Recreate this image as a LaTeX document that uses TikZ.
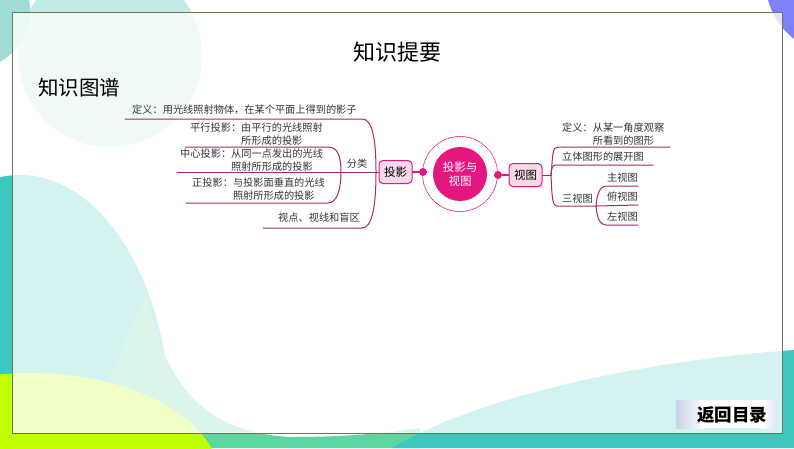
\documentclass[tikz,border=0pt]{standalone}
\usepackage{fontspec}
\newfontfamily\cjk{Noto Sans CJK SC}
\definecolor{tealdeep}{HTML}{3CC8BE}
\definecolor{greenband}{HTML}{5CD6A0}
\definecolor{limeband}{HTML}{BFFF00}
\definecolor{tealpale}{HTML}{C2EBE6}
\definecolor{tealmid}{HTML}{9EDCD5}
\definecolor{violetcap}{HTML}{8080F8}
\definecolor{framegray}{HTML}{6E7558}
\definecolor{mapline}{HTML}{A3286E}
\definecolor{hubpink}{HTML}{E3177F}
\definecolor{boxpink}{HTML}{F8D9E8}
\definecolor{btnblue}{HTML}{C8D2E6}
\begin{document}
\begin{tikzpicture}[x=1pt,y=-1pt,line join=round,line cap=round,font=\cjk,
	maplink/.style={draw=mapline,line width=1pt},
	hublink/.style={draw=hubpink,line width=1.2pt},
	leaf/.style={anchor=west,inner sep=0pt,align=left,text=black!80,
		font=\cjk\fontsize{10.2}{13}\selectfont},
	hubbox/.style={draw=hubpink,fill=boxpink,rounded corners=4pt,line width=1pt,
		minimum width=33pt,minimum height=23pt,inner sep=0pt,
		font=\cjk\fontsize{11.5}{13}\selectfont},
	hubdot/.style={circle,fill=hubpink,inner sep=0pt,minimum size=8pt}]
	\useasboundingbox (0,0) rectangle (794,448);
	% background of the slide
	\begin{scope}
		\clip (0,0) rectangle (794,448);
		\fill[white] (0,0) rectangle (794,448);
		\fill[tealpale] (110,55) circle (92pt);
		\fill[tealmid] (-30,10) circle (60pt);
		\fill[violetcap] (840,-20) circle (74.7pt);
		\fill[tealdeep] (20,420) ellipse (150pt and 245pt);
		\fill[greenband] (147,290) .. controls (162,380) and (200,432) .. (290,437)
			.. controls (340,437) and (380,434) .. (420,428) -- (420,448) -- (90,448)
			.. controls (100,400) and (125,340) .. (147,290) -- cycle;
		\fill[limeband] (30,480) ellipse (190pt and 107pt);
		\fill[tealdeep] (794,350) .. controls (650,360) and (480,395) .. (392,448)
			-- (794,448) -- cycle;
		\fill[white,opacity=0.78] (12,12) rectangle (782,433);
		\draw[framegray,line width=1pt] (12,12) rectangle (782,433);
		\fill[white] (676,400) rectangle (777,428);
		\shade[left color=btnblue,right color=white] (676,400) rectangle (705,428);
		\shade[left color=white,right color=btnblue!60] (762,400) rectangle (777,428);
	\end{scope}
	\node[font=\cjk\fontsize{22}{24}\selectfont] (title) at (397,52) {知识提要};
	\node[font=\cjk\fontsize{20.5}{24}\selectfont,anchor=west,inner sep=0pt] (maptitle) at (38,88) {知识图谱};
	\node[font=\cjk\bfseries\fontsize{17.5}{20}\selectfont] (back) at (732,415) {返回目录};
	% branch points and line ends
	\path
	(376,172) coordinate (Lj)
	(341,172) coordinate (Lk)
	(125,119) coordinate (def1) (362,119) coordinate (def2)
	(263,228) coordinate (vp1) (362,228) coordinate (vp2)
	(185,147) coordinate (par1) (328,147) coordinate (par2)
	(186,203) coordinate (ort1) (328,203) coordinate (ort2)
	(177,172) coordinate (cen1)
	(551,175) coordinate (Rj)
	(558,147) coordinate (vdef1) (670,147) coordinate (vdef2)
	(556,165) coordinate (unf1) (653,165) coordinate (unf2)
	(557,206) coordinate (tri1) (596,206) coordinate (Rk)
	(606,186) coordinate (main1) (638,186) coordinate (main2)
	(638,205) coordinate (top2)
	(606,225) coordinate (left1) (638,225) coordinate (left2)
	;
	% centre
	\node[circle,fill=hubpink,minimum size=54pt,inner sep=0pt,text=white,align=center,
		font=\cjk\fontsize{11.5}{14}\selectfont] (hub) at (460,174) {投影与\\视图};
	\draw[hubpink,densely dotted,line width=0.8pt] (hub.center) circle (37.5pt);
	\node[hubdot] (dl) at (423,172) {};
	\node[hubdot] (dr) at (498,175) {};
	\node[hubbox] (proj) at (395.5,172) {投影};
	\node[hubbox] (view) at (525.5,175) {视图};
	\draw[hublink] (proj) -- (dl);
	\draw[hublink] (dr) -- (view);
	% left branch
	\draw[maplink] (cen1) -- (proj.west);
	\draw[maplink] (def1) -- (def2) .. controls +(10,0) and +(0,-35) .. (Lj)
		.. controls +(0,35) and +(10,0) .. (vp2) -- (vp1);
	\draw[maplink] (par1) -- (par2) .. controls +(9,0) and +(0,-17) .. (Lk)
		.. controls +(0,17) and +(9,0) .. (ort2) -- (ort1);
	\node[leaf] (defT) at (132,110) {定义：用光线照射物体，在某个平面上得到的影子};
	\node[leaf] (parT) at (190,134.5) {平行投影：由平行的光线照射\\\hspace*{5em}所形成的投影};
	\node[leaf] (cenT) at (180,160) {中心投影：从同一点发出的光线\\\hspace*{5em}照射所形成的投影};
	\node[leaf] (ortT) at (192,189.5) {正投影：与投影面垂直的光线\\\hspace*{4em}照射所形成的投影};
	\node[leaf] (vpT) at (278,218) {视点、视线和盲区};
	\node[leaf,anchor=center] (cls) at (357,164) {分类};
	% right branch
	\draw[maplink] (view.east) -- (Rj);
	\draw[maplink] (Rj) .. controls +(2,-20) and +(-6,0) .. (vdef1) -- (vdef2);
	\draw[maplink] (Rj) .. controls +(1,-8) and +(-4,0) .. (unf1) -- (unf2);
	\draw[maplink] (Rj) .. controls +(1,20) and +(-5,0) .. (tri1) -- (Rk);
	\draw[maplink] (Rk) .. controls +(1,-12) and +(-6,0) .. (main1) -- (main2);
	\draw[maplink] (Rk) -- (top2);
	\draw[maplink] (Rk) .. controls +(1,12) and +(-6,0) .. (left1) -- (left2);
	\node[leaf] (vdefT) at (562,134) {定义：从某一角度观察\\\hspace*{3em}所看到的图形};
	\node[leaf] (unfT) at (562,157) {立体图形的展开图};
	\node[leaf] (triT) at (562,199) {三视图};
	\node[leaf] (mainT) at (607,178) {主视图};
	\node[leaf] (topT) at (607,197) {俯视图};
	\node[leaf] (leftT) at (607,217) {左视图};
\end{tikzpicture}
\end{document}
